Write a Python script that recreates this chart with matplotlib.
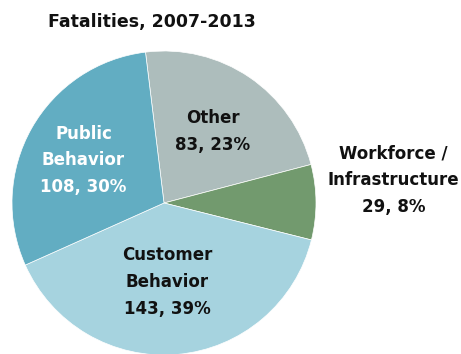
import matplotlib
matplotlib.use("Agg")
import matplotlib.pyplot as plt

# data (slices go clockwise from the top)
categories = ["Other", "Workforce /\nInfrastructure", "Customer\nBehavior", "Public\nBehavior"]
counts = [83, 29, 143, 108]
percents = [23, 8, 39, 30]
colors = ["#adbdbc", "#729a6e", "#a6d3df", "#62adc2"]
text_colors = ["#111111", "#111111", "#111111", "white"]

W, H = 461, 354
cx, cy, r = 164, 203, 152

fig = plt.figure(figsize=(W / 100, H / 100), dpi=100)
ax = fig.add_axes([(cx - r) / W, (H - cy - r) / H, 2 * r / W, 2 * r / H])
ax.pie(counts, colors=colors, startangle=97, counterclock=False, radius=1,
       wedgeprops=dict(edgecolor="white", linewidth=0.5))
ax.set_xlim(-1, 1)
ax.set_ylim(-1, 1)
ax.axis("off")

# label positions in pie units
label_pos = [(0.32, 0.47), (1.51, 0.15), (0.02, -0.52), (-0.53, 0.28)]
for name, n, p, (x, y), tc in zip(categories, counts, percents, label_pos, text_colors):
    ax.text(x, y, f"{name}\n{n}, {p}%", ha="center", va="center", color=tc,
            fontsize=12, fontweight="bold", linespacing=1.62, clip_on=False)

fig.text(152 / W, 1 - 22 / H, "Fatalities, 2007-2013", ha="center", va="center",
         fontsize=12.5, fontweight="bold", color="#111111")

fig.savefig("out.png", dpi=100)
